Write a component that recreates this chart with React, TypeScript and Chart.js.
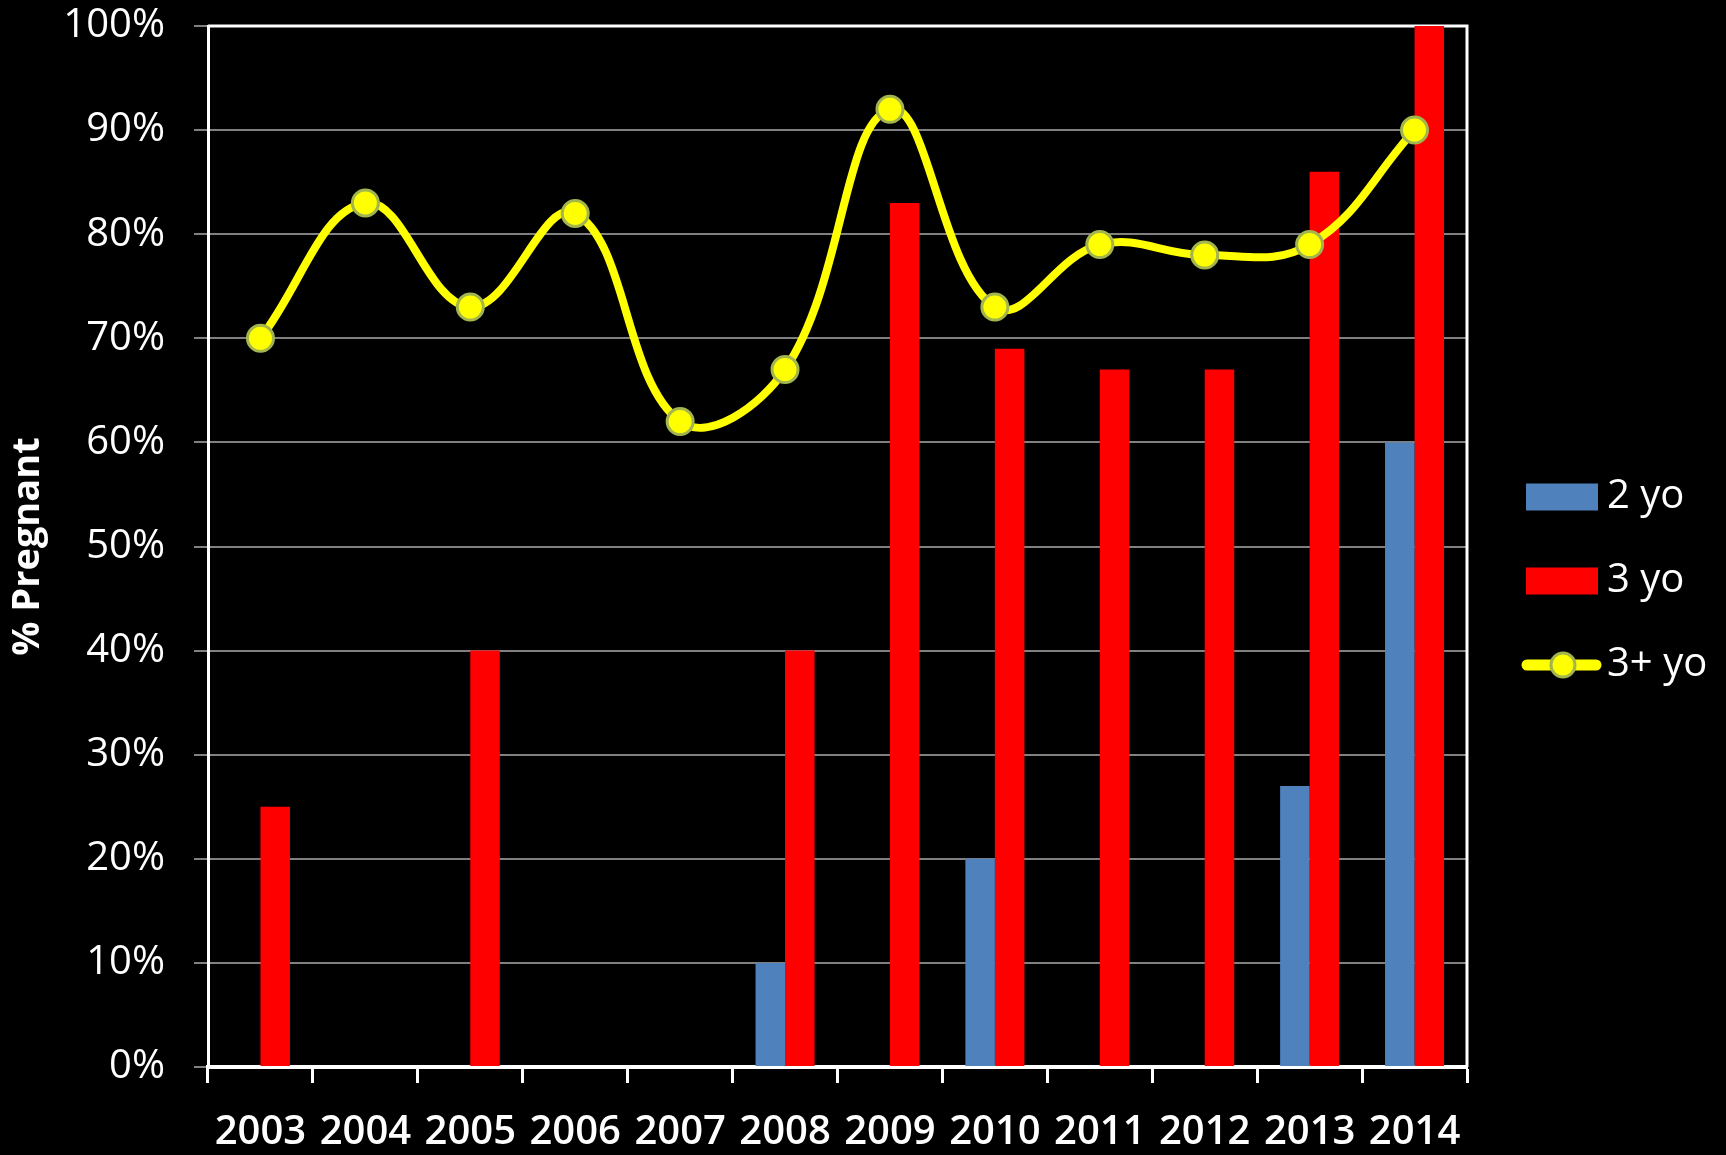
import React, { useEffect, useRef } from "react";
import { Chart, registerables } from "chart.js";

Chart.register(...registerables);

const years = ["2003", "2004", "2005", "2006", "2007", "2008", "2009", "2010", "2011", "2012", "2013", "2014"];
const twoYo: (number | null)[] = [null, null, null, null, null, 10, null, 20, null, null, 27, 60];
const threeYo: (number | null)[] = [25, null, 40, null, null, 40, 83, 69, 67, 67, 86, 100];
const threePlusYo: number[] = [70, 83, 73, 82, 62, 67, 92, 73, 79, 78, 79, 90];
const seriesLabels = ["2 yo", "3 yo", "3+ yo"];
const yAxisTitle = "% Pregnant";
const yMin = 0;
const yMax = 100;
const yStep = 10;

const BLUE = "#4f81bd";
const RED = "#ff0000";
const YELLOW = "#ffff00";
const POINT_BORDER = "#a3b54e";
const FONT = "'Open Sans', 'Noto Sans', sans-serif";

const borderPlugin = {
  id: "plotBorder",
  beforeDatasetsDraw(chart: any) {
    const { ctx, chartArea } = chart;
    ctx.save();
    ctx.strokeStyle = "#ffffff";
    ctx.lineWidth = 3;
    ctx.beginPath();
    ctx.moveTo(chartArea.left, chartArea.top);
    ctx.lineTo(chartArea.right, chartArea.top);
    ctx.lineTo(chartArea.right, chartArea.bottom);
    ctx.stroke();
    ctx.restore();
  },
};

const legendPlugin = {
  id: "customLegend",
  afterDraw(chart: any) {
    const { ctx, chartArea, height } = chart;
    const x0 = chartArea.right + 59;
    const cy = height / 2 + 3.5;
    const rows = [cy - 84, cy, cy + 84];
    ctx.save();
    ctx.fillStyle = BLUE;
    ctx.fillRect(x0, rows[0] - 13.5, 72, 27);
    ctx.fillStyle = RED;
    ctx.fillRect(x0, rows[1] - 13.5, 72, 27);
    ctx.strokeStyle = YELLOW;
    ctx.lineWidth = 11;
    ctx.lineCap = "round";
    ctx.beginPath();
    ctx.moveTo(x0 + 1, rows[2]);
    ctx.lineTo(x0 + 70, rows[2]);
    ctx.stroke();
    ctx.beginPath();
    ctx.arc(x0 + 37, rows[2], 12, 0, Math.PI * 2);
    ctx.fillStyle = YELLOW;
    ctx.fill();
    ctx.lineWidth = 3;
    ctx.strokeStyle = POINT_BORDER;
    ctx.stroke();
    ctx.fillStyle = "#ffffff";
    ctx.font = `40px ${FONT}`;
    ctx.textBaseline = "middle";
    ctx.textAlign = "left";
    seriesLabels.forEach((l, i) => ctx.fillText(l, x0 + 81, rows[i]));
    ctx.restore();
  },
};

export default function App() {
  const ref = useRef<HTMLCanvasElement | null>(null);

  useEffect(() => {
    if (!ref.current) return;
    const chart = new Chart(ref.current, {
      type: "bar",
      data: {
        labels: years,
        datasets: [
          {
            type: "line",
            label: seriesLabels[2],
            data: threePlusYo,
            borderColor: YELLOW,
            borderWidth: 8,
            tension: 0.4,
            pointRadius: 13,
            pointBorderWidth: 3,
            pointBackgroundColor: YELLOW,
            pointBorderColor: POINT_BORDER,
            order: 0,
            clip: false,
          } as any,
          {
            type: "bar",
            label: seriesLabels[0],
            data: twoYo,
            backgroundColor: BLUE,
            categoryPercentage: 0.5625,
            barPercentage: 1,
            order: 1,
          },
          {
            type: "bar",
            label: seriesLabels[1],
            data: threeYo,
            backgroundColor: RED,
            categoryPercentage: 0.5625,
            barPercentage: 1,
            order: 1,
          },
        ],
      },
      options: {
        responsive: false,
        animation: false,
        layout: { padding: { top: 26, right: 259, bottom: 0, left: 0 } },
        plugins: {
          legend: { display: false },
          tooltip: { enabled: false },
        },
        scales: {
          x: {
            grid: {
              display: true,
              drawOnChartArea: false,
              drawTicks: true,
              tickLength: 16,
              tickColor: "#ffffff",
              tickWidth: 3,
              offset: true,
            },
            border: { color: "#ffffff", width: 4 },
            ticks: {
              color: "#ffffff",
              font: { family: FONT, size: 40, weight: 600 },
              padding: 26,
              maxRotation: 0,
              autoSkip: false,
            },
            afterFit: (scale: any) => {
              scale.height = 88;
              scale.paddingLeft = 0;
              scale.paddingRight = 0;
            },
          },
          y: {
            min: yMin,
            max: yMax,
            grid: {
              color: "#808080",
              lineWidth: 2,
              drawTicks: true,
              tickLength: 14,
              tickColor: "#808080",
            },
            border: { color: "#ffffff", width: 3 },
            ticks: {
              stepSize: yStep,
              color: "#ffffff",
              font: { family: FONT, size: 40 },
              padding: 29,
              callback: (v: any) => `${v}%`,
            },
            title: {
              display: true,
              text: yAxisTitle,
              color: "#ffffff",
              font: { family: FONT, size: 38, weight: "bold" },
              padding: { top: 5, bottom: 0 },
            },
            afterFit: (scale: any) => {
              scale.width = 208;
              scale.paddingTop = 0;
              scale.paddingBottom = 0;
            },
          },
        },
      },
      plugins: [borderPlugin, legendPlugin],
    });
    return () => chart.destroy();
  }, []);

  return (
    <div style={{ position: "absolute", left: 0, top: 0, width: 1726, height: 1155, background: "#000" }}>
      <canvas ref={ref} width={1726} height={1155} style={{ display: "block" }} />
    </div>
  );
}
